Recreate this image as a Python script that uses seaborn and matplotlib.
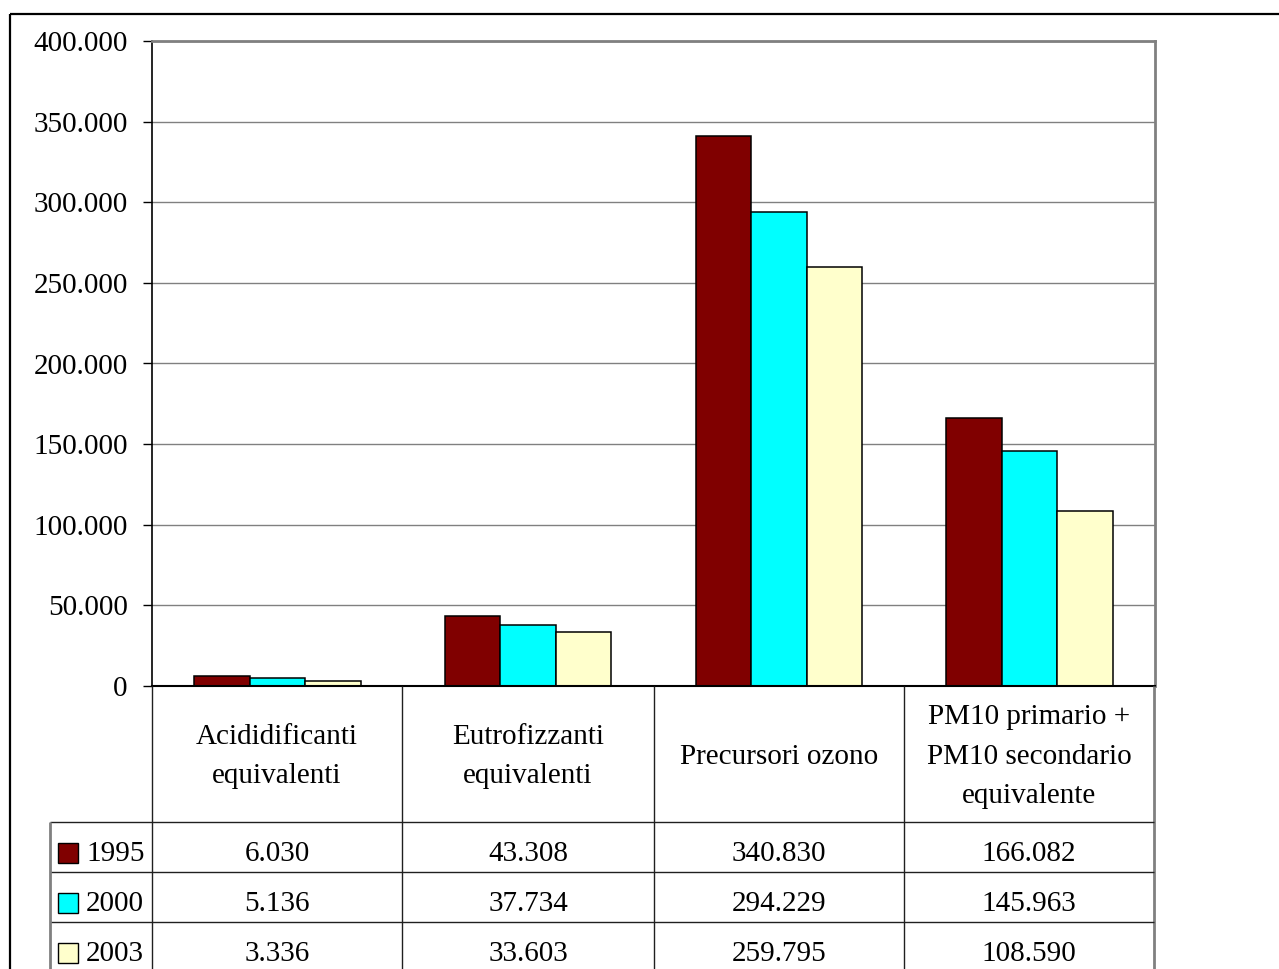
import matplotlib
matplotlib.use("Agg")
import matplotlib.pyplot as plt
from matplotlib.lines import Line2D
from matplotlib.patches import Rectangle
from matplotlib.ticker import FuncFormatter
import seaborn as sns
import pandas as pd

# Emission totals by indicator and year
categories = [
    "Acididificanti\nequivalenti",
    "Eutrofizzanti\nequivalenti",
    "Precursori ozono",
    "PM10 primario +\nPM10 secondario\nequivalente",
]
years = ["1995", "2000", "2003"]
values_1995 = [6030, 43308, 340830, 166082]
values_2000 = [5136, 37734, 294229, 145963]
values_2003 = [3336, 33603, 259795, 108590]
colors = ["#800000", "#00FFFF", "#FFFFCC"]
y_ticks = [0, 50000, 100000, 150000, 200000, 250000, 300000, 350000, 400000]

series = [values_1995, values_2000, values_2003]
rows = []
for yr, vals in zip(years, series):
    for cat, v in zip(categories, vals):
        rows.append({"categoria": cat, "anno": yr, "valore": v})
df = pd.DataFrame(rows)

sns.set_theme(style="white")
plt.rcParams["font.family"] = ["Liberation Serif", "DejaVu Serif"]
plt.rcParams["text.color"] = "black"

FS = 21
W, H = 1279, 969
fig = plt.figure(figsize=(W / 100, H / 100), dpi=100)
fig.patch.set_facecolor("white")

# Plot area in pixel coordinates
left, right, top, bottom = 152, 1155, 41, 686
ax = fig.add_axes([left / W, 1 - bottom / H, (right - left) / W, (bottom - top) / H])

sns.barplot(
    data=df, x="categoria", y="valore", hue="anno", order=categories,
    hue_order=years, palette=colors, width=0.664, edgecolor="black",
    linewidth=1.1, saturation=1, ax=ax, legend=False, errorbar=None,
)

def it_fmt(v, _pos=None):
    return f"{int(round(v)):,}".replace(",", ".")

ax.set_ylim(0, 400000)
ax.set_xlim(-0.5, len(categories) - 0.5)
ax.set_yticks(y_ticks)
ax.yaxis.set_major_formatter(FuncFormatter(it_fmt))
ax.set_xticks([])
ax.set_xlabel("")
ax.set_ylabel("")
ax.tick_params(axis="y", direction="out", length=6.5, width=1, color="black",
               pad=11, labelsize=FS, labelcolor="black", left=True)
ax.yaxis.grid(True, color="#808080", linewidth=1)
ax.set_axisbelow(True)
ax.spines["left"].set_color("black")
ax.spines["left"].set_linewidth(1.2)
ax.spines["bottom"].set_color("black")
ax.spines["bottom"].set_linewidth(1.5)
ax.spines["top"].set_color("#808080")
ax.spines["top"].set_linewidth(2)
ax.spines["right"].set_color("#808080")
ax.spines["right"].set_linewidth(2)

# Overlay in pixel coordinates for the data table and frame
ov = fig.add_axes([0, 0, 1, 1], zorder=5)
ov.set_xlim(0, W)
ov.set_ylim(H, 0)
ov.axis("off")
ov.patch.set_alpha(0)

def line(x0, y0, x1, y1, color="black", lw=1.0):
    ov.add_line(Line2D([x0, x1], [y0, y1], color=color, linewidth=lw,
                       solid_capstyle="butt"))

# Outer frame
line(10, 14, W, 14, "black", 1.6)
line(10, 14, 10, H, "black", 1.6)

# Table grid
col_edges = [152, 402, 654, 904, 1154]
row_edges = [822, 872, 922]
for x in col_edges[:-1]:
    line(x, bottom, x, H, "#202020", 1.0)
line(1154, bottom, 1154, H, "#808080", 2)
for y in row_edges:
    line(50, y, 1154, y, "#202020", 1.0)
line(50, 822, 50, H, "#808080", 2)

# Category headers
header_mid = (bottom + 822) / 2 + 2.5
for i, cat in enumerate(categories):
    cx = (col_edges[i] + col_edges[i + 1]) / 2
    parts = cat.split("\n")
    n = len(parts)
    for j, p in enumerate(parts):
        cy = header_mid + (j - (n - 1) / 2) * 39.5
        ov.text(cx, cy, p, ha="center", va="center", fontsize=FS, color="black")

# Values and legend keys
for r, (yr, vals, col) in enumerate(zip(years, series, colors)):
    cy = row_edges[r] + 32
    ov.add_patch(Rectangle((58, cy - 11), 20, 20, facecolor=col,
                           edgecolor="black", linewidth=1.0))
    ov.text(86, cy, yr, ha="left", va="center", fontsize=FS, color="black")
    for i, v in enumerate(vals):
        cx = (col_edges[i] + col_edges[i + 1]) / 2
        ov.text(cx, cy, it_fmt(v), ha="center", va="center", fontsize=FS,
                color="black")

fig.savefig("out.png", dpi=100, facecolor="white")
